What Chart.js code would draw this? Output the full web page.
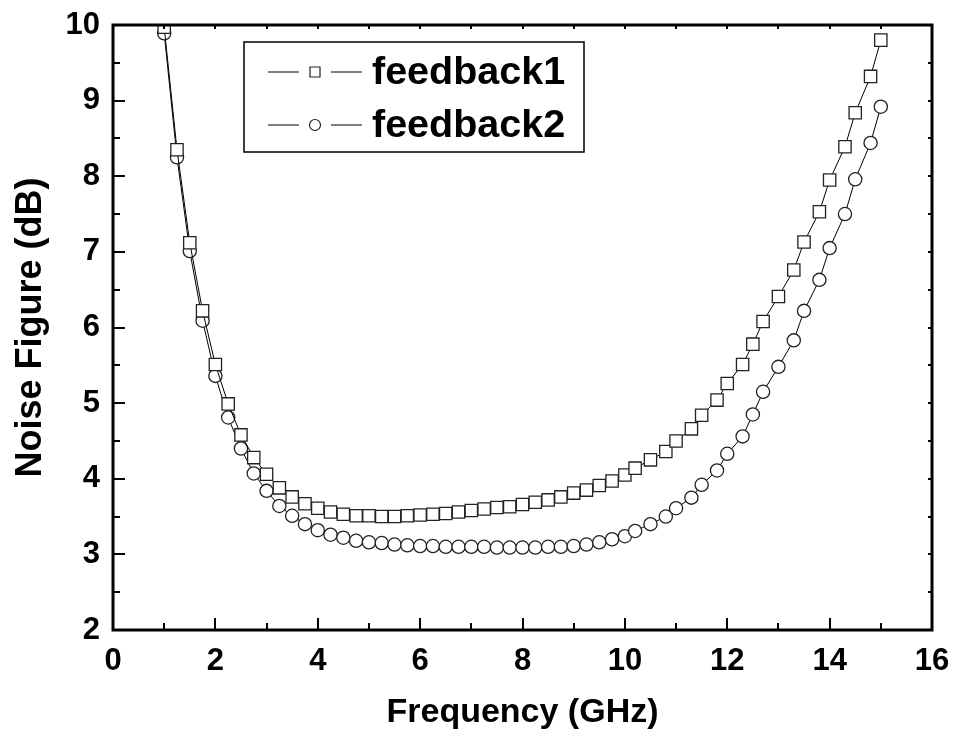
<!DOCTYPE html>
<html><head><meta charset="utf-8">
<script src="https://cdn.jsdelivr.net/npm/chart.js@4.4.0/dist/chart.umd.min.js"></script>
<style>html,body{margin:0;padding:0;background:#fff;} #wrap{width:957px;height:735px;}</style>
</head><body><div id="wrap"><canvas id="c" width="957" height="735"></canvas></div>
<script>
// ---- data ----
const freq = [1, 1.25, 1.5, 1.75, 2, 2.25, 2.5, 2.75, 3, 3.25, 3.5, 3.75, 4, 4.25, 4.5, 4.75,
  5, 5.25, 5.5, 5.75, 6, 6.25, 6.5, 6.75, 7, 7.25, 7.5, 7.75, 8, 8.25, 8.5, 8.75,
  9, 9.25, 9.5, 9.75, 10, 10.2, 10.5, 10.8, 11, 11.3, 11.5, 11.8, 12, 12.3, 12.5, 12.7,
  13, 13.3, 13.5, 13.8, 14, 14.3, 14.5, 14.8, 15];
const feedback1 = [9.97, 8.35, 7.12, 6.22, 5.51, 4.99, 4.58, 4.28, 4.06, 3.88, 3.76, 3.67, 3.61, 3.56, 3.53, 3.51,
  3.51, 3.50, 3.50, 3.51, 3.52, 3.53, 3.54, 3.56, 3.58, 3.60, 3.62, 3.63, 3.66, 3.69, 3.72, 3.76,
  3.81, 3.85, 3.91, 3.97, 4.05, 4.14, 4.25, 4.36, 4.50, 4.66, 4.84, 5.04, 5.26, 5.51, 5.78, 6.08,
  6.41, 6.76, 7.13, 7.53, 7.95, 8.39, 8.84, 9.32, 9.80];
const feedback2 = [9.89, 8.25, 7.01, 6.09, 5.36, 4.81, 4.40, 4.07, 3.84, 3.64, 3.51, 3.40, 3.32, 3.26, 3.22, 3.18,
  3.16, 3.15, 3.13, 3.12, 3.11, 3.11, 3.10, 3.10, 3.10, 3.10, 3.09, 3.09, 3.09, 3.09, 3.10, 3.10,
  3.11, 3.13, 3.16, 3.20, 3.24, 3.31, 3.40, 3.50, 3.61, 3.75, 3.92, 4.11, 4.33, 4.56, 4.85, 5.15,
  5.48, 5.83, 6.22, 6.63, 7.05, 7.50, 7.96, 8.44, 8.92];
const seriesNames = ['feedback1', 'feedback2'];
const xTickLabels = ['0', '2', '4', '6', '8', '10', '12', '14', '16'];
const yTickLabels = ['2', '3', '4', '5', '6', '7', '8', '9', '10'];
const xTitle = 'Frequency (GHz)';
const yTitle = 'Noise Figure (dB)';

const FONT = '"Liberation Sans", Arial, Helvetica, sans-serif';

function toPoints(xs, ys) { return xs.map((v, i) => ({x: v, y: ys[i]})); }

const framePlugin = {
  id: 'frame',
  afterDraw(chart) {
    const {ctx, chartArea: a, scales: {x, y}} = chart;
    ctx.save();
    ctx.strokeStyle = '#000';
    ctx.lineWidth = 3;
    ctx.strokeRect(a.left, a.top, a.right - a.left, a.bottom - a.top);
    ctx.lineWidth = 2;
    ctx.beginPath();
    for (let v = x.min; v <= x.max + 1e-9; v += 1) {
      const px = Math.round(x.getPixelForValue(v));
      const L = (Math.round(v) % 2 === 0) ? 12 : 7;
      ctx.moveTo(px, a.bottom); ctx.lineTo(px, a.bottom - L);
      ctx.moveTo(px, a.top); ctx.lineTo(px, a.top + 4);
    }
    for (let v = y.min; v <= y.max + 1e-9; v += 0.5) {
      const py = Math.round(y.getPixelForValue(v));
      const major = Math.abs(v - Math.round(v)) < 1e-9;
      const L = major ? 12 : 7;
      ctx.moveTo(a.left, py); ctx.lineTo(a.left + L, py);
      ctx.moveTo(a.right, py); ctx.lineTo(a.right - 4, py);
    }
    ctx.stroke();
    ctx.restore();
  }
};

const legendPlugin = {
  id: 'boxLegend',
  afterDraw(chart) {
    const {ctx, chartArea: a} = chart;
    const bx = a.left + 131, by = a.top + 17, bw = 340, bh = 110;
    ctx.save();
    ctx.fillStyle = '#fff';
    ctx.fillRect(bx, by, bw, bh);
    ctx.strokeStyle = '#000';
    ctx.lineWidth = 1.5;
    ctx.strokeRect(bx, by, bw, bh);
    const rows = [a.top + 47, a.top + 100];
    chart.data.datasets.forEach((ds, i) => {
      const ry = rows[i];
      ctx.strokeStyle = '#000';
      ctx.lineWidth = 1;
      ctx.beginPath();
      ctx.moveTo(a.left + 155, ry); ctx.lineTo(a.left + 186, ry);
      ctx.moveTo(a.left + 218, ry); ctx.lineTo(a.left + 249, ry);
      ctx.stroke();
      ctx.lineWidth = 1.2;
      ctx.strokeStyle = '#222';
      ctx.fillStyle = '#fff';
      const mx = a.left + 202;
      ctx.beginPath();
      if (ds.pointStyle === 'rect') {
        ctx.rect(mx - 5, ry - 5, 10, 10);
      } else {
        ctx.arc(mx, ry, 5.5, 0, Math.PI * 2);
      }
      ctx.fill(); ctx.stroke();
      ctx.fillStyle = '#000';
      ctx.font = 'bold 39.5px ' + FONT;
      ctx.textBaseline = 'middle';
      ctx.textAlign = 'left';
      ctx.fillText(ds.label, a.left + 259, ry + 1);
    });
    ctx.restore();
  }
};

const commonDs = {
  showLine: true,
  borderColor: '#000',
  borderWidth: 1,
  backgroundColor: '#fff',
  pointBackgroundColor: '#fff',
  pointBorderColor: '#222',
  pointBorderWidth: 1.3,
  tension: 0
};

new Chart(document.getElementById('c'), {
  type: 'scatter',
  data: {
    datasets: [
      Object.assign({}, commonDs, {label: seriesNames[0], data: toPoints(freq, feedback1), pointStyle: 'rect', pointRadius: 8.7, pointHoverRadius: 8.7}),
      Object.assign({}, commonDs, {label: seriesNames[1], data: toPoints(freq, feedback2), pointStyle: 'circle', pointRadius: 6.6, pointHoverRadius: 6.6})
    ]
  },
  options: {
    responsive: false,
    devicePixelRatio: 1,
    animation: false,
    layout: {padding: {top: 25, right: 25, left: 0, bottom: 0}},
    plugins: {legend: {display: false}, tooltip: {enabled: false}},
    scales: {
      x: {
        type: 'linear', min: 0, max: 16,
        grid: {display: false, drawTicks: false},
        border: {display: false},
        afterFit(s) { s.height = 105; s.paddingLeft = 0; s.paddingRight = 0; },
        afterBuildTicks(s) { s.ticks = xTickLabels.map(t => ({value: Number(t)})); },
        ticks: {
          padding: 13, color: '#000', maxRotation: 0, autoSkip: false,
          font: {family: FONT, size: 31, weight: 'bold'},
          callback: (v) => xTickLabels.find(t => Number(t) === v) ?? ''
        },
        title: {display: true, text: xTitle, color: '#000', padding: {top: 0, bottom: 2},
          font: {family: FONT, size: 34, weight: 'bold'}}
      },
      y: {
        type: 'linear', min: 2, max: 10,
        grid: {display: false, drawTicks: false},
        border: {display: false},
        afterFit(s) { s.width = 113; s.paddingTop = 0; s.paddingBottom = 0; },
        afterBuildTicks(s) { s.ticks = yTickLabels.map(t => ({value: Number(t)})); },
        ticks: {
          padding: 13, color: '#000', autoSkip: false,
          font: {family: FONT, size: 31, weight: 'bold'},
          callback: (v) => yTickLabels.find(t => Number(t) === v) ?? ''
        },
        title: {display: true, text: yTitle, color: '#000', padding: {top: 9, bottom: 0},
          font: {family: FONT, size: 36, weight: 'bold'}}
      }
    }
  },
  plugins: [framePlugin, legendPlugin]
});
</script>
</body></html>
